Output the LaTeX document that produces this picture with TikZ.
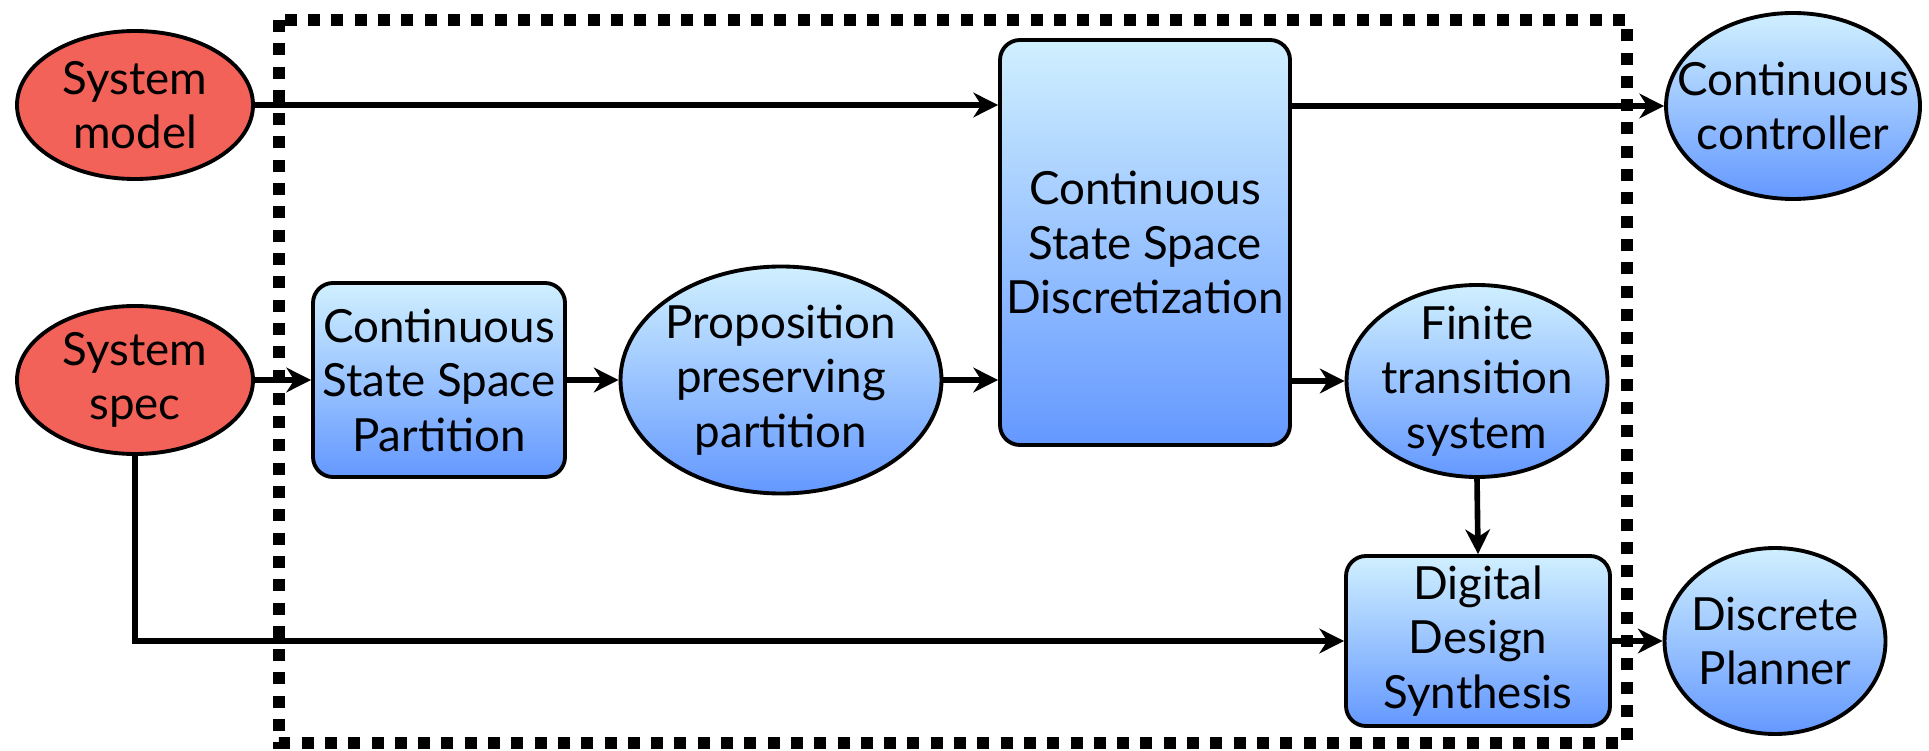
\documentclass[tikz,border=0pt]{standalone}
\usepackage{fontspec}
\setmainfont{Lato}
\usetikzlibrary{shapes.geometric,arrows.meta}
\definecolor{specred}{RGB}{242,98,88}
\definecolor{shadetop}{RGB}{208,240,255}
\definecolor{shadebot}{RGB}{100,152,255}

\begin{document}
\begin{tikzpicture}[line width=1.6pt, >={Stealth[length=7pt,width=7pt,inset=2.2pt]},
    every node/.style={font=\fontsize{13}{15.5}\selectfont, align=center, draw, line width=1.1pt, inner sep=0pt},
    given/.style={ellipse, inner sep=-0.35cm, fill=specred, minimum width=2.36cm, minimum height=1.48cm},
    stage/.style={rectangle, rounded corners=0.2cm, top color=shadetop, bottom color=shadebot},
    result/.style={ellipse, inner sep=-0.35cm, top color=shadetop, bottom color=shadebot}]{
    \useasboundingbox (0,0) rectangle (19.29,-7.51);
    \draw [line width=0.12cm, dash pattern=on 0.12cm off 0.113cm] (2.79,-0.20) rectangle (16.27,-7.43);

    \node [given] (SysModel) at (1.35,-1.05) {System\\model};
    \node [given] (SysSpec) at (1.35,-3.80) {System\\spec};
    \node [stage, minimum width=2.52cm, minimum height=1.94cm] (Partition) at (4.39,-3.80) {Continuous\\State Space\\Partition};
    \node [result, minimum width=3.21cm, minimum height=2.27cm] (PropPart) at (7.81,-3.80) {Proposition\\preserving\\partition};
    \node [stage, minimum width=2.90cm, minimum height=4.05cm] (Discretize) at (11.45,-2.425) {Continuous\\State Space\\Discretization};
    \node [result, minimum width=2.61cm, minimum height=1.92cm] (FTS) at (14.77,-3.81) {Finite\\transition\\system};
    \node [stage, minimum width=2.64cm, minimum height=1.70cm] (DDS) at (14.78,-6.41) {Digital\\Design\\Synthesis};
    \node [result, minimum width=2.54cm, minimum height=1.86cm] (Controller) at (17.93,-1.06) {Continuous\\controller};
    \node [result, minimum width=2.21cm, minimum height=1.86cm] (Planner) at (17.75,-6.41) {Discrete\\Planner};

    \path [->] (SysModel.east) edge (SysModel.east -| Discretize.west);
    \path [->] (Controller.west -| Discretize.east) edge (Controller.west);
    \path [->] (SysSpec.east) edge (Partition.west);
    \path [->] (Partition.east) edge (PropPart.west);
    \path [->] (PropPart.east) edge (PropPart.east -| Discretize.west);
    \path [->] (FTS.west -| Discretize.east) edge (FTS.west);
    \path [->] (FTS.south) edge (DDS.north);
    \path [->] (DDS.east) edge (Planner.west);
    \draw [->] (SysSpec.south) |- (DDS.west);
    }
\end{tikzpicture}
\end{document}
